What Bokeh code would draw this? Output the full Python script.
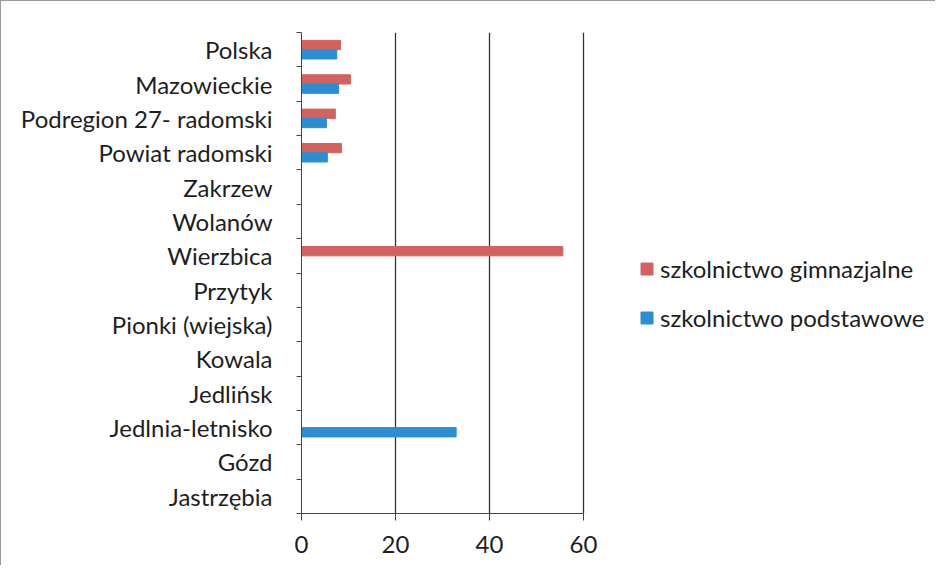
from bokeh.plotting import figure
from bokeh.models import (ColumnDataSource, FixedTicker, Legend, LegendItem, Range1d)
from bokeh.embed import file_html
from bokeh.resources import INLINE

categories = ["Polska", "Mazowieckie", "Podregion 27- radomski", "Powiat radomski",
              "Zakrzew", "Wolanów", "Wierzbica", "Przytyk", "Pionki (wiejska)",
              "Kowala", "Jedlińsk", "Jedlnia-letnisko", "Gózd", "Jastrzębia"]
gimnazjalne = [8.3, 10.4, 7.2, 8.5, 0, 0, 55.6, 0, 0, 0, 0, 0, 0, 0]
podstawowe = [7.5, 7.9, 5.3, 5.5, 0, 0, 0, 0, 0, 0, 0, 32.9, 0, 0]
x_ticks = [0, 20, 40, 60]
series_names = ["szkolnictwo gimnazjalne", "szkolnictwo podstawowe"]

FONT = "Lato"
RED = "#d3625f"
BLUE = "#2b8ed4"
W, H = 935, 565
LEFT, RIGHT_AXIS_PX = 300, 282   # frame left border; pixel length of the 0..60 axis
n = len(categories)
centers = [n - i - 0.5 for i in range(n)]
off = 0.135
bh = 0.27
x_max = x_ticks[-1]
x_end = x_max * (W - LEFT) / RIGHT_AXIS_PX   # frame extends under the legend

src = ColumnDataSource(dict(
    y_g=[c + off for c in centers], y_p=[c - off for c in centers],
    g=gimnazjalne, p=podstawowe))

p = figure(width=W, height=H, output_backend="svg", toolbar_location=None,
           x_range=Range1d(0, x_end), y_range=Range1d(0, n),
           min_border_left=LEFT, min_border_right=0, min_border_top=31,
           min_border_bottom=53,
           styles={"border-top": "1px solid #9a9a9a", "border-left": "1px solid #9a9a9a"})
p.outline_line_color = None
p.background_fill_color = "white"

rg = p.hbar(y="y_g", right="g", left=0, height=bh, source=src, fill_color=RED, line_color=RED)
rp = p.hbar(y="y_p", right="p", left=0, height=bh, source=src, fill_color=BLUE, line_color=BLUE)

# x axis
p.xaxis.ticker = FixedTicker(ticks=x_ticks)
p.xaxis.bounds = (0, x_max)
p.xaxis.axis_line_color = "#444444"
p.xaxis.major_tick_line_color = "#444444"
p.xaxis.major_tick_out = 7
p.xaxis.major_tick_in = 0
p.xaxis.minor_tick_line_color = None
p.xaxis.major_label_text_font = FONT
p.xaxis.major_label_text_font_size = "24px"
p.xaxis.major_label_text_color = "#1e1e1e"
p.xaxis.major_label_standoff = 15

# y axis: labels at category centres, ticks at boundaries
p.yaxis.ticker = FixedTicker(ticks=centers, minor_ticks=list(range(n + 1)))
p.yaxis.major_label_overrides = {c: categories[i] for i, c in enumerate(centers)}
p.yaxis.axis_line_color = "#444444"
p.yaxis.major_tick_line_color = None
p.yaxis.major_tick_out = 0
p.yaxis.major_tick_in = 0
p.yaxis.minor_tick_line_color = "#444444"
p.yaxis.minor_tick_out = 5
p.yaxis.minor_tick_in = 0
p.yaxis.major_label_text_font = FONT
p.yaxis.major_label_text_font_size = "24px"
p.yaxis.major_label_text_color = "#1e1e1e"
p.yaxis.major_label_standoff = 24

p.ygrid.grid_line_color = None
p.xgrid.ticker = FixedTicker(ticks=x_ticks)
p.xgrid.grid_line_color = "#333333"
p.xgrid.grid_line_width = 1.3

legend = Legend(items=[LegendItem(label=series_names[0], renderers=[rg]),
                       LegendItem(label=series_names[1], renderers=[rp])],
                location=(338, 181), orientation="vertical",
                glyph_width=15, glyph_height=15, label_height=24, spacing=20,
                padding=0, margin=0, border_line_color=None,
                background_fill_alpha=0,
                label_text_font=FONT, label_text_font_size="24px",
                label_text_color="#1e1e1e", label_standoff=6)
p.add_layout(legend, "center")

open("out.html", "w").write(file_html(p, INLINE))
